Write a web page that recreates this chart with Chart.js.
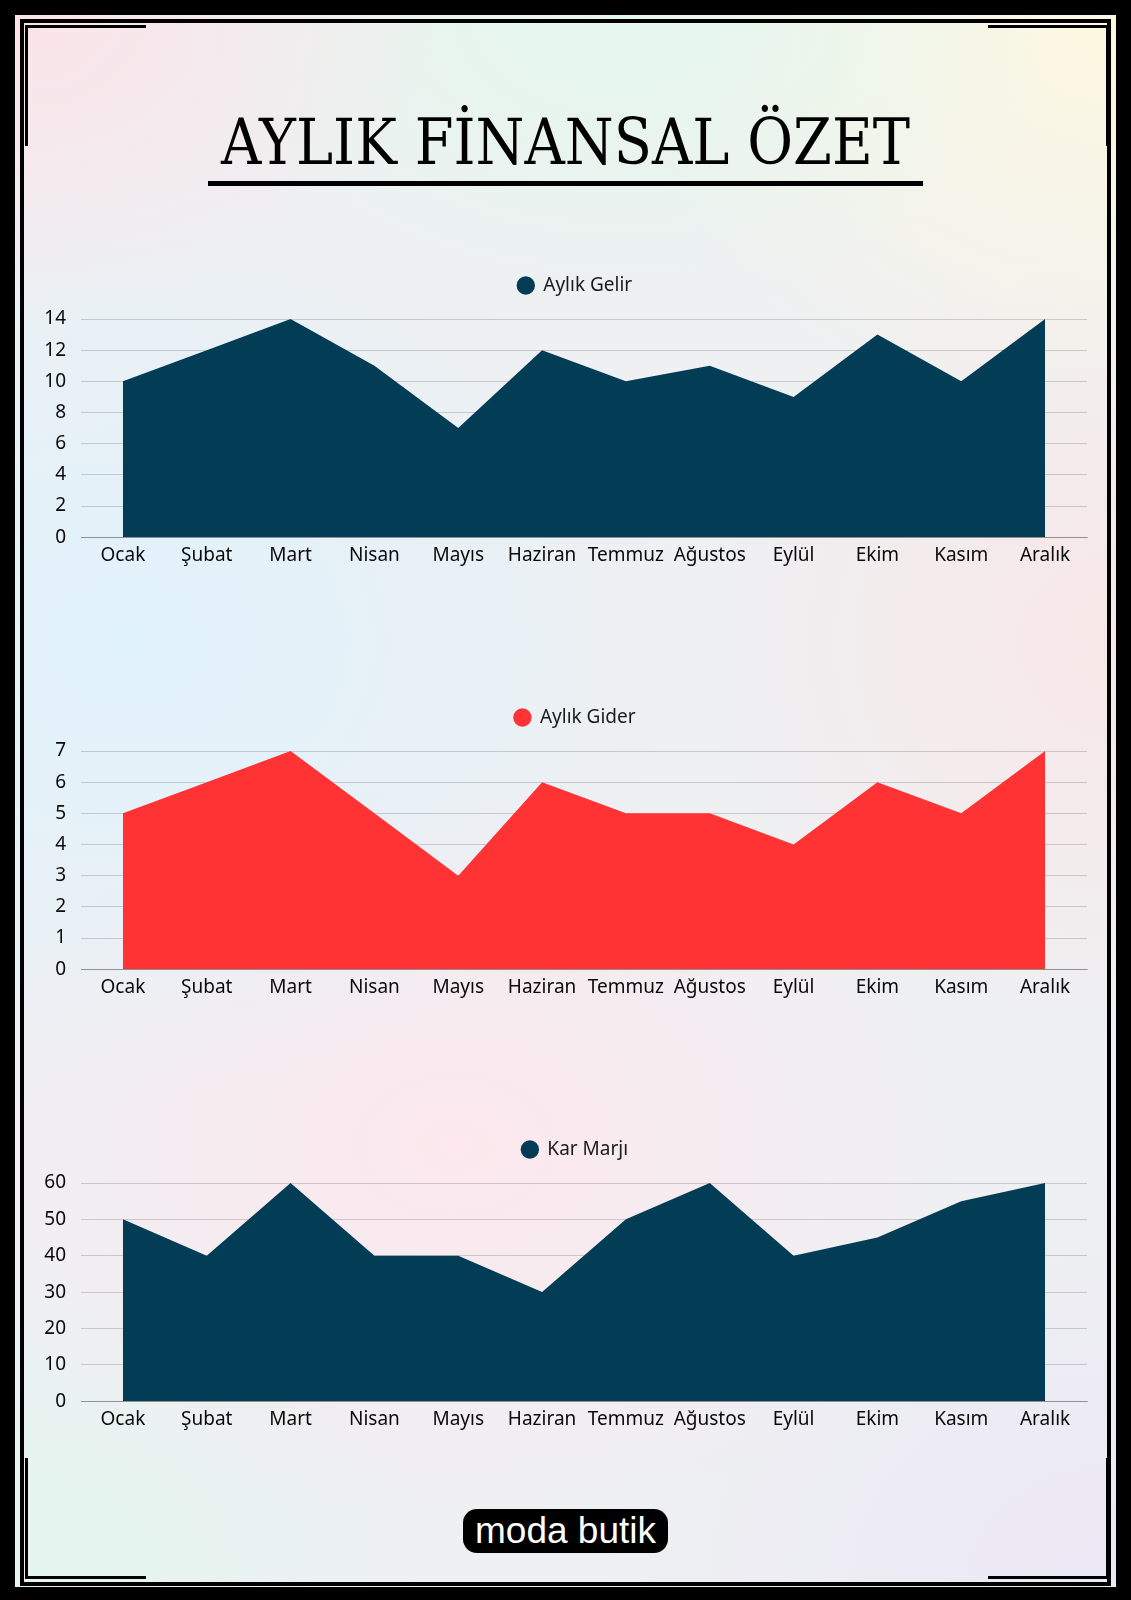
<!DOCTYPE html>
<html lang="tr">
<head>
<meta charset="utf-8">
<title>Aylık Finansal Özet</title>
<script src="https://cdn.jsdelivr.net/npm/chart.js@4.4.1/dist/chart.umd.min.js"></script>
<style>
  html, body { margin: 0; padding: 0; background: #000; }
  body { width: 1131px; height: 1600px; position: relative; overflow: hidden; }
  .page {
    position: absolute; left: 15px; top: 15px; width: 1101px; height: 1572px;
    background:
      radial-gradient(ellipse 420px 300px at 0% 0%, rgba(252,226,232,0.9), rgba(252,226,232,0) 100%),
      radial-gradient(ellipse 450px 300px at 55% 0%, rgba(228,248,236,0.95), rgba(228,248,236,0) 100%),
      radial-gradient(ellipse 500px 420px at 100% 0%, rgba(254,248,224,1), rgba(254,248,224,0) 100%),
      radial-gradient(ellipse 560px 460px at 10% 40%, rgba(224,242,252,1), rgba(224,242,252,0) 100%),
      radial-gradient(ellipse 420px 400px at 100% 40%, rgba(250,230,230,0.9), rgba(250,230,230,0) 100%),
      radial-gradient(ellipse 520px 380px at 40% 72%, rgba(252,232,238,1), rgba(252,232,238,0) 100%),
      radial-gradient(ellipse 420px 320px at 0% 100%, rgba(226,246,238,1), rgba(226,246,238,0) 100%),
      radial-gradient(ellipse 520px 420px at 100% 100%, rgba(236,232,246,1), rgba(236,232,246,0) 100%),
      #eef0f2;
  }
  .frame {
    position: absolute; left: 20px; top: 19px; width: 1083px; height: 1559px;
    border: 4px solid #000;
  }
  .corner { position: absolute; width: 118px; height: 118px; border: 0 solid #000; }
  .tl { left: 25px; top: 25px; border-top-width: 3px; border-left-width: 3px; }
  .tr { left: 988px; top: 25px; border-top-width: 3px; border-right-width: 3px; }
  .bl { left: 25px; top: 1458px; border-bottom-width: 3px; border-left-width: 3px; }
  .br { left: 988px; top: 1458px; border-bottom-width: 3px; border-right-width: 3px; }
  .title {
    position: absolute; left: 0; width: 1131px; top: 110px; text-align: center;
    font-family: "DejaVu Serif", "Liberation Serif", serif; font-size: 64px; line-height: 64px;
    color: #000; white-space: nowrap;
  }
  .title span { display: inline-block; transform-origin: center; }
  .rule { position: absolute; left: 208px; top: 181px; width: 715px; height: 5px; background: #000; }
  .chart { position: absolute; left: 37px; width: 1084px; height: 320px; }
  .brand {
    position: absolute; left: 463px; top: 1509px; width: 205px; height: 44px;
    background: #000; color: #fff; border-radius: 14px; text-align: center;
    font-family: "Liberation Sans", Arial, sans-serif; font-size: 37px; line-height: 44px;
  }
</style>
</head>
<body>
<div class="page"></div>
<div class="frame"></div>
<div class="corner tl"></div>
<div class="corner tr"></div>
<div class="corner bl"></div>
<div class="corner br"></div>

<div class="title"><span id="titleText">AYLIK FİNANSAL ÖZET</span></div>
<div class="rule"></div>

<div class="chart" style="top:254px"><canvas id="gelirChart"></canvas></div>
<div class="chart" style="top:686px"><canvas id="giderChart"></canvas></div>
<div class="chart" style="top:1118px"><canvas id="karChart"></canvas></div>

<div class="brand">moda butik</div>

<script>
// months shown on every x axis
var months = ['Ocak', 'Şubat', 'Mart', 'Nisan', 'Mayıs', 'Haziran', 'Temmuz', 'Ağustos', 'Eylül', 'Ekim', 'Kasım', 'Aralık'];

// monthly values
var gelir = [10, 12, 14, 11, 7, 12, 10, 11, 9, 13, 10, 14];
var gider = [5, 6, 7, 5, 3, 6, 5, 5, 4, 6, 5, 7];
var karMarji = [50, 40, 60, 40, 40, 30, 50, 60, 40, 45, 55, 60];

// squeeze the title to the width of the reference lettering
var titleEl = document.getElementById('titleText');
var titleScale = 689 / titleEl.getBoundingClientRect().width;
titleEl.style.transform = 'scaleX(' + titleScale + ')';

var fontFamily = '"Noto Sans", "Open Sans", sans-serif';

// more room under the legend, and the legend nudged over the plot centre
var legendGap = {
    id: 'legendGap',
    beforeInit: function (chart) {
        var fit = chart.legend.fit;
        chart.legend.fit = function () {
            fit.bind(chart.legend)();
            this.height += 14;
        };
    },
    afterLayout: function (chart) {
        chart.legend.left += 13;
        chart.legend.right += 13;
    }
};

function makeAreaChart(canvasId, label, values, color, stepSize) {
    return new Chart(document.getElementById(canvasId), {
        type: 'line',
        data: {
            labels: months,
            datasets: [{
                label: label,
                data: values,
                fill: 'origin',
                backgroundColor: color,
                borderColor: color,
                borderWidth: 0,
                pointRadius: 0,
                pointHoverRadius: 0,
                pointStyle: 'circle',
                tension: 0
            }]
        },
        plugins: [legendGap],
        options: {
            responsive: true,
            maintainAspectRatio: false,
            animation: false,
            layout: { padding: { right: 34 } },
            scales: {
                x: {
                    offset: true,
                    grid: { display: false, drawTicks: false },
                    border: { display: true, color: 'rgba(0,0,0,0.28)' },
                    ticks: { color: '#0a0a0a', padding: 7, font: { family: fontFamily, size: 19 } }
                },
                y: {
                    beginAtZero: true,
                    ticks: { stepSize: stepSize, color: '#0a0a0a', padding: 15, font: { family: fontFamily, size: 19 } },
                    grid: { color: 'rgba(0,0,0,0.16)', drawTicks: false },
                    border: { display: false },
                    afterFit: function (scale) { scale.width = 44; }
                }
            },
            plugins: {
                tooltip: { enabled: false },
                legend: {
                    labels: {
                        usePointStyle: true,
                        boxWidth: 16,
                        boxHeight: 13,
                        padding: 22,
                        color: '#1a1a1a',
                        font: { family: fontFamily, size: 19 }
                    }
                }
            }
        }
    });
}

makeAreaChart('gelirChart', 'Aylık Gelir', gelir, '#023d55', 2);
makeAreaChart('giderChart', 'Aylık Gider', gider, '#ff3333', 1);
makeAreaChart('karChart', 'Kar Marjı', karMarji, '#023d55', 10);
</script>
</body>
</html>
